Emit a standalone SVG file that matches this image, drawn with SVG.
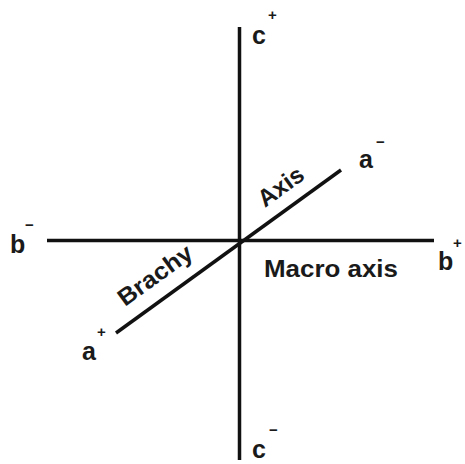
<svg xmlns="http://www.w3.org/2000/svg" width="465" height="464" viewBox="0 0 465 464">
<style>
.ax{stroke:#111;stroke-width:3.5;stroke-linecap:butt;fill:none}
.lb{font-family:"Liberation Sans",Arial,sans-serif;font-weight:bold;fill:#1a1a1a}
.big{font-size:25px}
.sup{font-size:15px}
.name{font-size:24px}
</style>
<rect width="465" height="464" fill="#fff"/>
<g id="connectors">
<line class="ax" x1="239.5" y1="27" x2="239.5" y2="460"/>
<line class="ax" x1="47" y1="240.5" x2="434" y2="240.5"/>
<line class="ax" x1="116" y1="333" x2="341" y2="170"/>
</g>
<g id="c-plus"><text class="lb big" x="252" y="44">c</text><text class="lb sup" x="268" y="20">+</text></g>
<g id="c-minus"><text class="lb big" x="252" y="458">c</text><text class="lb sup" x="269" y="435">−</text></g>
<g id="b-minus"><text class="lb big" x="10" y="253">b</text><text class="lb sup" x="25" y="230">−</text></g>
<g id="b-plus"><text class="lb big" x="438" y="270">b</text><text class="lb sup" x="453" y="248">+</text></g>
<g id="a-minus"><text class="lb big" x="359" y="168">a</text><text class="lb sup" x="376" y="147">−</text></g>
<g id="a-plus"><text class="lb big" x="82" y="360">a</text><text class="lb sup" x="97" y="337">+</text></g>
<g id="macro"><text class="lb name" x="264" y="277" textLength="134" lengthAdjust="spacingAndGlyphs">Macro axis</text></g>
<g id="brachy"><text class="lb name" transform="translate(125,307) rotate(-36)" textLength="86" lengthAdjust="spacingAndGlyphs">Brachy</text></g>
<g id="axis"><text class="lb name" transform="translate(265,208) rotate(-36)">Axis</text></g>
</svg>
